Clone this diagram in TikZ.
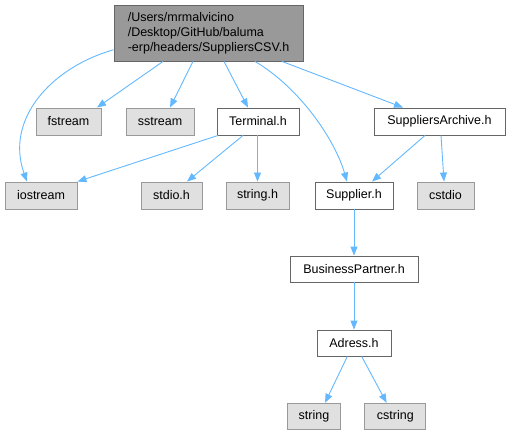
\documentclass[tikz,border=0pt]{standalone}
\usepackage{fontspec}
\setmainfont{Liberation Sans}
\usetikzlibrary{arrows.meta}
\definecolor{edgec}{HTML}{63B8FF}
\definecolor{rootfill}{HTML}{999999}
\definecolor{rootdraw}{HTML}{666666}
\definecolor{leaffill}{HTML}{E0E0E0}
\definecolor{leafdraw}{HTML}{999999}
\begin{document}
\begin{tikzpicture}[x=1pt,y=-1pt,
  base/.style={rectangle,inner sep=0pt,line width=0.9pt,font=\fontsize{12.5}{15}\selectfont,minimum height=27pt},
  rootbox/.style={base,fill=rootfill,draw=rootdraw,minimum width=189pt,minimum height=56pt,align=left},
  whitebox/.style={base,fill=white,draw=rootdraw},
  leafbox/.style={base,fill=leaffill,draw=leafdraw},
  edge/.style={draw=edgec,line width=0.9pt,-{Triangle[length=9pt,width=7pt,fill=edgec]}}]
\useasboundingbox (0,0) rectangle (510,435);
\node[rootbox] (root) at (208.5,33) {/Users/mrmalvicino\\/Desktop/GitHub/baluma\\-erp/headers/SuppliersCSV.h};
\node[leafbox,minimum width=65pt] (fstream) at (68.5,121.5) {fstream};
\node[leafbox,minimum width=68pt] (sstream) at (160,121.5) {sstream};
\node[whitebox,minimum width=82pt] (terminal) at (258,121.5) {Terminal.h};
\node[whitebox,minimum width=131pt] (archive) at (439.5,121.5) {SuppliersArchive.h};
\node[leafbox,minimum width=72pt] (iostream) at (41,195.5) {iostream};
\node[leafbox,minimum width=61pt] (stdio) at (171.5,195.5) {stdio.h};
\node[leafbox,minimum width=63pt] (stringh) at (257.5,195.5) {string.h};
\node[whitebox,minimum width=78pt] (supplier) at (354,195.5) {Supplier.h};
\node[leafbox,minimum width=57pt] (cstdio) at (445.5,195.5) {cstdio};
\node[whitebox,minimum width=128pt,minimum height=26pt] (partner) at (354,269) {BusinessPartner.h};
\node[whitebox,minimum width=74pt,minimum height=26pt] (adress) at (354,343) {Adress.h};
\node[leafbox,minimum width=53pt,minimum height=26pt] (string) at (314,416.3) {string};
\node[leafbox,minimum width=61pt,minimum height=26pt] (cstring) at (395.3,416.3) {cstring};

\draw[edge] (root.190) .. controls (50,68) and (5,120) .. ([xshift=-14pt]iostream.north);
\draw[edge] ([xshift=-45.5pt]root.south) -- ([xshift=28.5pt]fstream.north);
\draw[edge] ([xshift=-15.5pt]root.south) -- ([xshift=10pt]sstream.north);
\draw[edge] ([xshift=15.5pt]root.south) -- ([xshift=-10pt]terminal.north);
\draw[edge] ([xshift=46.5pt]root.south) .. controls (300,88) and (335,140) .. ([xshift=-7pt]supplier.north);
\draw[edge] ([xshift=73.5pt]root.south) -- ([xshift=-36.5pt]archive.north);
\draw[edge] ([xshift=-40pt]terminal.south) -- (iostream.north east);
\draw[edge] ([xshift=-15pt]terminal.south) -- ([xshift=15.5pt]stdio.north);
\draw[edge] ([xshift=-0.5pt]terminal.south) -- (stringh.north);
\draw[edge] ([xshift=-14.5pt]archive.south) -- ([xshift=18pt]supplier.north);
\draw[edge] ([xshift=1.5pt]archive.south) -- ([xshift=-1.5pt]cstdio.north);
\draw[edge] (supplier) -- (partner);
\draw[edge] (partner) -- (adress);
\draw[edge] ([xshift=-6.7pt]adress.south) -- ([xshift=11pt]string.north);
\draw[edge] ([xshift=7.7pt]adress.south) -- ([xshift=-8.7pt]cstring.north);
\end{tikzpicture}
\end{document}
